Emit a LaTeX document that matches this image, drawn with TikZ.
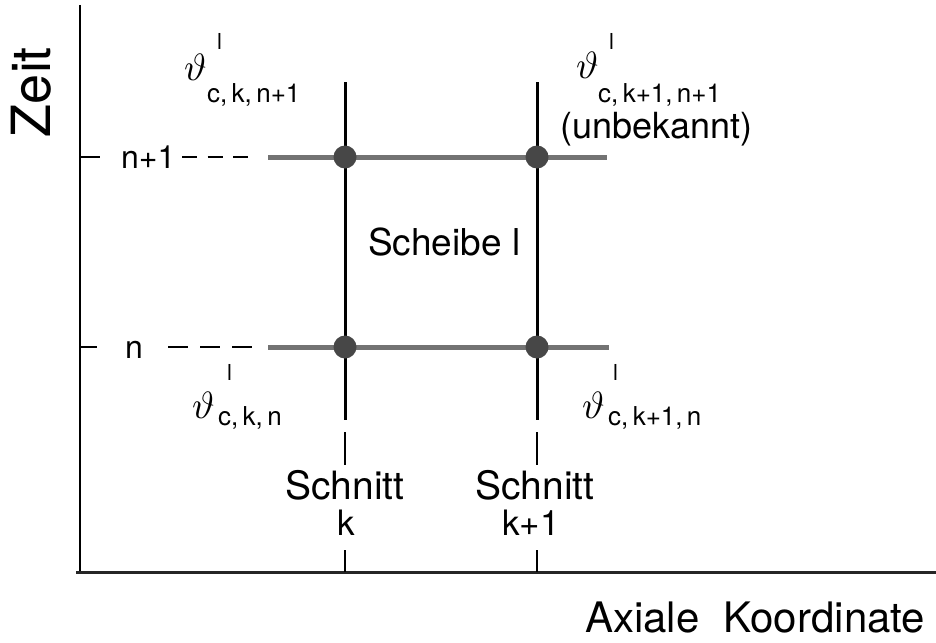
\documentclass[tikz,border=0pt]{standalone}
\usepackage{fontspec}
\setmainfont{TeX Gyre Heros}
\begin{document}
\begin{tikzpicture}[x=1pt,y=-1pt,
  txt/.style={inner sep=0pt, anchor=base west},
  txtc/.style={inner sep=0pt, anchor=base},
  gridh/.style={line width=5pt, black!55},
  gridv/.style={line width=3pt, black},
  dot/.style={circle, fill=black!72, minimum size=23pt, inner sep=0pt},
  th/.style={inner sep=0pt, anchor=base west},
  sup/.style={inner sep=0pt, anchor=base west, font=\fontsize{22}{24}\selectfont},
  sub/.style={inner sep=0pt, anchor=base west, font=\fontsize{26}{28}\selectfont},
  big/.style={font=\fontsize{37}{40}\selectfont},
  huge/.style={font=\fontsize{42}{46}\selectfont}]
\useasboundingbox (0,0) rectangle (936,642);

% axes
\coordinate (O) at (80,572);
\coordinate (ytop) at (80,5);
\coordinate (xend) at (936,572);
\draw[line width=2pt] (ytop) -- (80,574);
\draw[line width=3pt, black!85] (76,572) -- (xend);

% axis labels
\node[txtc, rotate=90, font=\fontsize{54}{56}\selectfont] (zeit) at (50,92) {Zeit};
\node[txt, huge] (axlab) at (585,632) {Axiale\hspace{0.3em} Koordinate};

% time levels
\coordinate (n1tick) at (100,157);
\coordinate (ntick) at (97,347);
\draw[line width=2pt] (80,157) -- (n1tick);
\draw[line width=2pt] (80,347) -- (ntick);
\node[txt, font=\fontsize{32}{34}\selectfont] (lbln1) at (121,168) {n+1};
\node[txt, font=\fontsize{32}{34}\selectfont] (lbln) at (125,358) {n};
\draw[line width=2pt, dash pattern=on 15pt off 10.5pt] (182,157) -- (248,157);
\draw[line width=2pt, dash pattern=on 20pt off 12pt] (168,347) -- (253,347);

% grid lines
\coordinate (kt) at (345,82);
\coordinate (k1t) at (537,82);
\coordinate (kb) at (345,420);
\coordinate (k1b) at (537,420);
\draw[gridv] (kt) -- (kb);
\draw[gridv] (k1t) -- (k1b);
\draw[line width=2pt] (345,432) -- (345,465);
\draw[line width=2pt] (537,432) -- (537,465);
\draw[line width=2pt] (345,550) -- (345,572);
\draw[line width=2pt] (537,550) -- (537,572);

\coordinate (hn1a) at (268,157);
\coordinate (hn1b) at (607,157);
\coordinate (hna) at (268,347);
\coordinate (hnb) at (609,347);
\draw[gridh] (hn1a) -- (hn1b);
\draw[gridh] (hna) -- (hnb);

\node[dot] (p1) at (345,157) {};
\node[dot] (p2) at (537,157) {};
\node[dot] (p3) at (345,347) {};
\node[dot] (p4) at (537,347) {};

% slice label
\node[txt, big] (scheibe) at (368,255) {Scheibe l};

% section labels
\node[txtc, font=\fontsize{39}{40}\selectfont] (s1) at (345,499) {Schnitt};
\node[txtc, font=\fontsize{35}{36}\selectfont] (s1k) at (346,535) {k};
\node[txtc, font=\fontsize{39}{40}\selectfont] (s2) at (535,499) {Schnitt};
\node[txtc, font=\fontsize{35}{36}\selectfont] (s2k) at (531,535) {k+1};

% temperatures
\node[th] (t1) at (184,80) {\scalebox{3.8}{$\vartheta$}};
\node[sup] (t1l) at (217,50) {l};
\node[sub] (t1s) at (207,102) {c,\,k,\,n+1};

\node[th] (t2) at (576,78) {\scalebox{3.8}{$\vartheta$}};
\node[sup] (t2l) at (609,50) {l};
\node[sub] (t2s) at (598,102) {c,\,k+1,\,n+1};
\node[txt, font=\fontsize{36}{38}\selectfont] (unb) at (560,138) {(unbekannt)};

\node[th] (t3) at (192,418) {\scalebox{3.8}{$\vartheta$}};
\node[sup] (t3l) at (227,380) {l};
\node[sub] (t3s) at (218,425) {c,\,k,\,n};

\node[th] (t4) at (582,418) {\scalebox{3.8}{$\vartheta$}};
\node[sup] (t4l) at (613,380) {l};
\node[sub] (t4s) at (608,425) {c,\,k+1,\,n};
\end{tikzpicture}
\end{document}
